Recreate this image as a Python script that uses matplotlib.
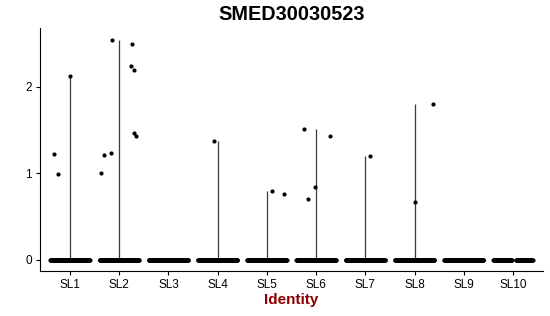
import numpy as np
import matplotlib
matplotlib.use('Agg')
import matplotlib.pyplot as plt

plt.rcParams['font.family'] = ['Liberation Sans', 'DejaVu Sans']

# groups and cell counts
groups = ['SL1', 'SL2', 'SL3', 'SL4', 'SL5', 'SL6', 'SL7', 'SL8', 'SL9', 'SL10']
n_zero = [180, 180, 180, 180, 180, 180, 180, 180, 180, 120]

# non-zero expression values per group, with their jitter offsets
expr_vals = {
    'SL1': [1.22, 0.99, 2.12],
    'SL2': [2.54, 2.49, 2.245, 2.19, 1.47, 1.43, 1.21, 1.24, 1.00],
    'SL3': [],
    'SL4': [1.376],
    'SL5': [0.80, 0.76],
    'SL6': [1.51, 1.43, 0.705, 0.84],
    'SL7': [1.20],
    'SL8': [1.80, 0.67],
    'SL9': [],
    'SL10': [],
}
expr_jit = {
    'SL1': [-0.33, -0.25, 0.0],
    'SL2': [-0.15, 0.26, 0.24, 0.29, 0.31, 0.35, -0.30, -0.16, -0.37],
    'SL3': [],
    'SL4': [-0.07],
    'SL5': [0.11, 0.34],
    'SL6': [-0.25, 0.29, -0.16, -0.03],
    'SL7': [0.09],
    'SL8': [0.37, 0.01],
    'SL9': [],
    'SL10': [],
}

fig = plt.figure(figsize=(5.5, 3.16), dpi=100)
ax = fig.add_axes([0.0736, 0.1424, 0.9128, 0.7686])

for i, g in enumerate(groups):
    x = i + 1
    vals = expr_vals[g]
    top = max(vals) if vals else 0.0
    if top > 0:
        ax.vlines(x, 0, top, color='#3a3a3a', linewidth=0.9, zorder=1)
    zx = x + np.linspace(-0.4, 0.4, n_zero[i])
    if g == 'SL10':
        zx = zx[(zx - x < -0.02) | (zx - x > 0.06)]
    ax.scatter(zx, np.zeros(len(zx)), s=9, color='black', linewidths=0, zorder=2)
    if vals:
        ax.scatter(x + np.array(expr_jit[g]), vals, s=9, color='black',
                   linewidths=0, zorder=2)

ax.set_xlim(0.4, 10.6)
ax.set_ylim(-0.1275, 2.6775)
ax.set_xticks(range(1, len(groups) + 1))
ax.set_xticklabels(groups)
ax.set_yticks([0, 1, 2])
ax.set_yticklabels(['0', '1', '2'])
ax.tick_params(labelsize=8.5, length=3, width=0.8, colors='black', pad=3)

for side in ['top', 'right']:
    ax.spines[side].set_visible(False)
for side in ['left', 'bottom']:
    ax.spines[side].set_linewidth(0.8)

ax.set_xlabel('Identity', fontsize=11, fontweight='bold', color='#8B0000', labelpad=1)
fig.text(0.53, 1 - 15 / 316, 'SMED30030523', fontsize=14.3, fontweight='bold',
         ha='center', va='center')

fig.savefig('out.png', dpi=100)
plt.close(fig)
